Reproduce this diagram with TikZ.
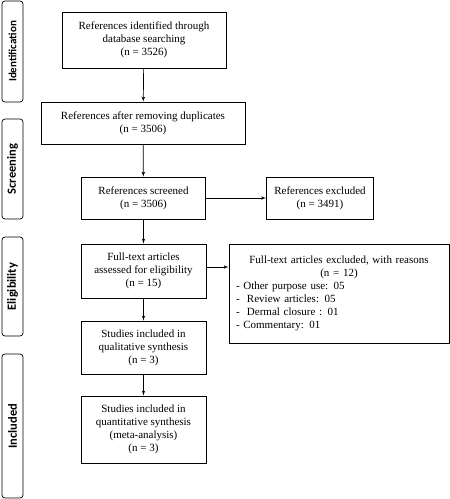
\documentclass[tikz,border=0pt]{standalone}
\usepackage{fontspec}
\setmainfont{Liberation Serif}
\setsansfont{Carlito}
\usetikzlibrary{arrows}

\begin{document}
\begin{tikzpicture}[x=1pt, y=-1pt]

\tikzset{box/.style = {shape=rectangle, draw, line width=0.7pt, align=center, inner sep=2pt,
  font=\fontsize{11}{13}\selectfont}}
\tikzset{phase/.style = {shape=rectangle, draw, line width=0.7pt, rounded corners=3pt, rotate=90,
  minimum height=21pt, inner sep=0pt, font=\fontsize{12.5}{13}\selectfont\sffamily\bfseries}}
\tikzset{edge/.style = {->, > = latex', line width=0.7pt}}

\useasboundingbox (0,0) rectangle (450,499);

%phases
\node[phase, minimum width=101pt, font=\fontsize{11}{12}\selectfont\sffamily\bfseries] (identification) at (12.5,51.5) {Identification};
\node[phase, minimum width=100pt] (screening) at (12.5,169) {Screening};
\node[phase, minimum width=99pt] (eligibility) at (12.5,286.5) {Eligibility};
\node[phase, minimum width=144pt] (included) at (12.5,426) {Included};

%boxes
\node[box, minimum width=164pt, minimum height=56pt] (identified) at (144,40)
  {References identified through\\database searching\\(n = 3526)};
\node[box, minimum width=204pt, minimum height=42pt] (duplicates) at (143,123)
  {References after removing duplicates\\(n = 3506)};
\node[box, minimum width=124pt, minimum height=42pt] (screened) at (143.5,198)
  {References screened\\(n = 3506)};
\node[box, minimum width=107pt, minimum height=42pt] (excluded) at (320,198)
  {References excluded\\(n = 3491)};
\node[box, minimum width=125pt, minimum height=54pt] (fulltext) at (143.5,271)
  {Full-text articles\\assessed for eligibility\\(n = 15)};
\node[box, text width=206pt, minimum height=99pt, inner sep=7pt, align=left] (reasons) at (339,293.5)
  {{\centering Full-text articles excluded, with reasons\\(n = 12)\par}
   - Other purpose use: 05\\
   -\ \ Review articles: 05\\
   -\ \ Dermal closure : 01\\
   - Commentary: 01};
\node[box, minimum width=125pt, minimum height=53pt] (qualitative) at (143.5,347.5)
  {Studies included in\\qualitative synthesis\\(n = 3)};
\node[box, minimum width=125pt, minimum height=67pt] (quantitative) at (143.5,429.5)
  {Studies included in\\quantitative synthesis\\(meta-analysis)\\(n = 3)};

%arrows
\draw[edge] (identified) -- (duplicates);
\draw[edge] (duplicates) -- (screened);
\draw[edge] (screened) -- (excluded);
\draw[edge] (screened) -- (fulltext);
\draw[edge] (fulltext.east) ++(0,-4) -- (reasons.west |- 0,267);
\draw[edge] (fulltext) -- (qualitative);
\draw[edge] (qualitative) -- (quantitative);

\end{tikzpicture}
\end{document}
